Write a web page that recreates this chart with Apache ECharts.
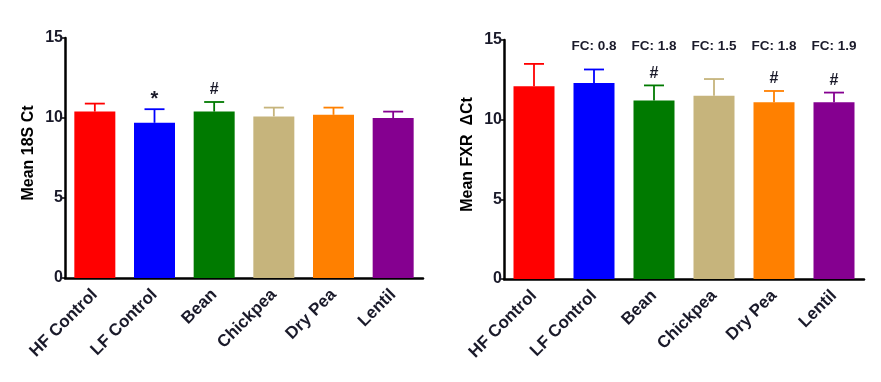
<!DOCTYPE html>
<html><head><meta charset="utf-8">
<script src="https://cdn.jsdelivr.net/npm/echarts@6/dist/echarts.min.js"></script>
<style>html,body{margin:0;padding:0;background:#fff}#c{width:881px;height:382px}</style>
</head><body><div id="c"></div>
<script>
const categories = ['HF Control','LF Control','Bean','Chickpea','Dry Pea','Lentil'];
const barColors = ['#FF0000','#0000FF','#007A00','#C6B47C','#FF8000','#850090'];
const s18Mean = [10.4, 9.7, 10.4, 10.1, 10.2, 10.0];
const s18Err = [0.5, 0.85, 0.6, 0.55, 0.45, 0.4];
const s18Marks = ['', '*', '#', '', '', ''];
const fxrMean = [12.1, 12.3, 11.2, 11.5, 11.1, 11.1];
const fxrErr = [1.4, 0.85, 0.95, 1.05, 0.7, 0.6];
const fxrMarks = ['', '', '#', '', '#', '#'];
const fxrFC = ['', 'FC: 0.8', 'FC: 1.8', 'FC: 1.5', 'FC: 1.8', 'FC: 1.9'];
const yTicks = [0, 5, 10, 15];

const FONT = 'Liberation Sans, Arial, sans-serif';
const TXT = '#1a1a2a';

function xAxis(gi){
  return {type:'category', gridIndex:gi, data:categories,
    axisLine:{lineStyle:{color:'#000', width:2.5}},
    axisTick:{alignWithLabel:true, length:5, lineStyle:{color:'#000', width:1.5}},
    axisLabel:{rotate:45, fontFamily:FONT, fontSize:17, fontWeight:'bold', color:TXT, margin:14, interval:0}
  };
}
function yAxis(gi, name){
  return {type:'value', gridIndex:gi, min:yTicks[0], max:yTicks[yTicks.length-1], interval:5,
    name:name, nameLocation:'middle', nameGap:28,
    nameTextStyle:{fontFamily:FONT, fontSize:16, fontWeight:'bold', color:'#000', padding:[0,0,0,10]},
    axisLine:{show:true, lineStyle:{color:'#000', width:2.5}},
    axisTick:{show:true, length:3, lineStyle:{color:'#000', width:1.5}},
    axisLabel:{fontFamily:FONT, fontSize:16, fontWeight:'bold', color:TXT, margin:2},
    splitLine:{show:false}
  };
}
function barSeries(gi, vals){
  return {type:'bar', xAxisIndex:gi, yAxisIndex:gi, barWidth:41,
    data: vals.map((v,i)=>({value:v, itemStyle:{color:barColors[i]}})), z:2};
}
function errSeries(gi, means, errs, marks, topLabels){
  return {type:'custom', xAxisIndex:gi, yAxisIndex:gi, z:3,
    data: means.map((m,i)=>[i, m, errs[i]]),
    renderItem: function(params, api){
      const i = api.value(0);
      const base = api.coord([i, api.value(1)]);
      const top = api.coord([i, api.value(1)+api.value(2)]);
      const c = barColors[i];
      const children = [
        {type:'line', shape:{x1:base[0], y1:base[1], x2:top[0], y2:top[1]}, style:{stroke:c, lineWidth:1.8}},
        {type:'line', shape:{x1:top[0]-10, y1:top[1], x2:top[0]+10, y2:top[1]}, style:{stroke:c, lineWidth:1.8}}
      ];
      const mk = marks[i];
      if (mk) {
        children.push({type:'text', x:top[0], y:top[1]-(mk==='*'?0:4), style:{text:mk, fill:TXT,
          font:'bold '+(mk==='*'?20:16)+'px '+FONT, align:'center', verticalAlign:'bottom'}});
      }
      if (topLabels && topLabels[i]) {
        const y0 = params.coordSys.y;
        children.push({type:'text', x:top[0], y:y0+6, style:{text:topLabels[i], fill:TXT,
          font:'bold 13.5px '+FONT, align:'center', verticalAlign:'middle'}});
      }
      return {type:'group', children:children};
    }
  };
}

const chart = echarts.init(document.getElementById('c'), null, {renderer:'canvas'});
chart.setOption({
  animation:false,
  backgroundColor:'#fff',
  grid:[
    {left:65, right:458, top:38, bottom:104},
    {left:504, right:17, top:40, bottom:103}
  ],
  xAxis:[xAxis(0), xAxis(1)],
  yAxis:[yAxis(0,'Mean 18S Ct'), yAxis(1,'Mean FXR  \u0394Ct')],
  series:[
    barSeries(0, s18Mean),
    errSeries(0, s18Mean, s18Err, s18Marks, null),
    barSeries(1, fxrMean),
    errSeries(1, fxrMean, fxrErr, fxrMarks, fxrFC)
  ]
});
</script></body></html>
